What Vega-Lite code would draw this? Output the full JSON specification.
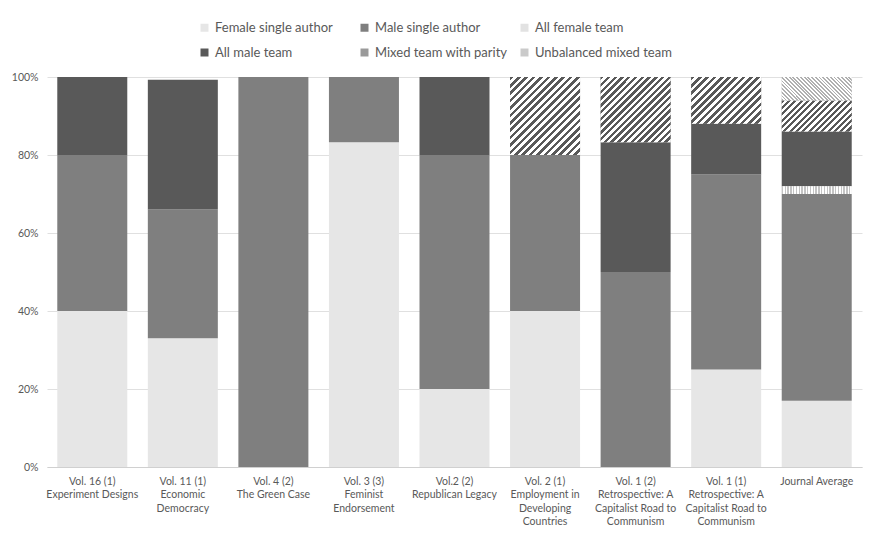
{
  "$schema": "https://vega.github.io/schema/vega-lite/v6.json",
  "width": 815,
  "height": 390,
  "autosize": {"type": "none"},
  "padding": {"left": 47, "top": 77, "right": 14, "bottom": 68},
  "background": "#ffffff",
  "config": {
    "view": {"stroke": null},
    "font": "Lato",
    "axis": {"labelFont": "Lato", "labelColor": "#595959", "labelFontSize": 10.5},
    "legend": {"labelFont": "Lato", "labelColor": "#595959", "labelFontSize": 13}
  },
  "data": {
    "values": [
      {"issue": "Vol. 16 (1)|Experiment Designs", "type": "Female single author", "rank": 1, "share": 0.40},
      {"issue": "Vol. 16 (1)|Experiment Designs", "type": "Male single author", "rank": 2, "share": 0.40},
      {"issue": "Vol. 16 (1)|Experiment Designs", "type": "All male team", "rank": 4, "share": 0.20},
      {"issue": "Vol. 11 (1)|Economic|Democracy", "type": "Female single author", "rank": 1, "share": 0.33},
      {"issue": "Vol. 11 (1)|Economic|Democracy", "type": "Male single author", "rank": 2, "share": 0.33},
      {"issue": "Vol. 11 (1)|Economic|Democracy", "type": "All male team", "rank": 4, "share": 0.333},
      {"issue": "Vol. 4 (2)|The Green Case", "type": "Male single author", "rank": 2, "share": 1.0},
      {"issue": "Vol. 3 (3)|Feminist|Endorsement", "type": "Female single author", "rank": 1, "share": 0.833},
      {"issue": "Vol. 3 (3)|Feminist|Endorsement", "type": "Male single author", "rank": 2, "share": 0.167},
      {"issue": "Vol.2 (2)|Republican Legacy", "type": "Female single author", "rank": 1, "share": 0.20},
      {"issue": "Vol.2 (2)|Republican Legacy", "type": "Male single author", "rank": 2, "share": 0.60},
      {"issue": "Vol.2 (2)|Republican Legacy", "type": "All male team", "rank": 4, "share": 0.20},
      {"issue": "Vol. 2 (1)|Employment in|Developing|Countries", "type": "Female single author", "rank": 1, "share": 0.40},
      {"issue": "Vol. 2 (1)|Employment in|Developing|Countries", "type": "Male single author", "rank": 2, "share": 0.40},
      {"issue": "Vol. 2 (1)|Employment in|Developing|Countries", "type": "Mixed team with parity", "rank": 5, "share": 0.20},
      {"issue": "Vol. 1 (2)|Retrospective: A|Capitalist Road to|Communism", "type": "Male single author", "rank": 2, "share": 0.50},
      {"issue": "Vol. 1 (2)|Retrospective: A|Capitalist Road to|Communism", "type": "All male team", "rank": 4, "share": 0.333},
      {"issue": "Vol. 1 (2)|Retrospective: A|Capitalist Road to|Communism", "type": "Mixed team with parity", "rank": 5, "share": 0.167},
      {"issue": "Vol. 1 (1)|Retrospective: A|Capitalist Road to|Communism", "type": "Female single author", "rank": 1, "share": 0.25},
      {"issue": "Vol. 1 (1)|Retrospective: A|Capitalist Road to|Communism", "type": "Male single author", "rank": 2, "share": 0.50},
      {"issue": "Vol. 1 (1)|Retrospective: A|Capitalist Road to|Communism", "type": "All male team", "rank": 4, "share": 0.13},
      {"issue": "Vol. 1 (1)|Retrospective: A|Capitalist Road to|Communism", "type": "Mixed team with parity", "rank": 5, "share": 0.12},
      {"issue": "Journal Average", "type": "Female single author", "rank": 1, "share": 0.17},
      {"issue": "Journal Average", "type": "Male single author", "rank": 2, "share": 0.53},
      {"issue": "Journal Average", "type": "All female team", "rank": 3, "share": 0.02},
      {"issue": "Journal Average", "type": "All male team", "rank": 4, "share": 0.14},
      {"issue": "Journal Average", "type": "Mixed team with parity", "rank": 5, "share": 0.08},
      {"issue": "Journal Average", "type": "Unbalanced mixed team", "rank": 6, "share": 0.06}
    ]
  },
  "transform": [
    {"stack": "share", "groupby": ["issue"], "sort": [{"field": "rank", "order": "ascending"}], "as": ["y0", "y1"]}
  ],
  "encoding": {
    "x": {
      "field": "issue",
      "type": "nominal",
      "sort": null,
      "scale": {"paddingInner": 0.227, "paddingOuter": 0.1135},
      "axis": {
        "title": null,
        "labelAngle": 0,
        "ticks": false,
        "domainColor": "#d0d0d0",
        "labelPadding": 9,
        "labelLineHeight": 13.5,
        "labelExpr": "split(datum.label, '|')"
      }
    },
    "y": {
      "field": "y1",
      "type": "quantitative",
      "scale": {"domain": [0, 1]},
      "axis": {
        "title": null,
        "format": ".0%",
        "values": [0, 0.2, 0.4, 0.6, 0.8, 1],
        "domain": false,
        "ticks": false,
        "gridColor": "#e0e0e0",
        "labelPadding": 9
      }
    },
    "y2": {"field": "y0"}
  },
  "layer": [
    {
      "mark": {"type": "bar"},
      "encoding": {
        "color": {
          "field": "type",
          "type": "nominal",
          "scale": {
            "domain": ["Female single author", "Male single author", "All female team", "All male team", "Mixed team with parity", "Unbalanced mixed team"],
            "range": ["#e6e6e6", "#7f7f7f", "#e2e2e2", "#595959", "#9a9a9a", "#cacaca"]
          },
          "legend": {
            "title": null,
            "orient": "none",
            "legendX": 151,
            "legendY": -56,
            "direction": "horizontal",
            "columns": 3,
            "gridAlign": "all",
            "columnPadding": 6,
            "rowPadding": 11,
            "padding": 0,
            "symbolType": "square",
            "symbolSize": 64,
            "symbolStrokeWidth": 0,
            "labelOffset": 4
          }
        }
      }
    },
    {
      "transform": [{"filter": {"field": "type", "equal": "All female team"}}],
      "mark": {"type": "bar", "fill": {"gradient": "linear", "x1": 0, "y1": 0, "x2": 1, "y2": 0, "stops": [
            {"offset": 0, "color": "#c4c4c4"}, {"offset": 0.02, "color": "#c4c4c4"}, {"offset": 0.02, "color": "#ffffff"}, {"offset": 0.04, "color": "#ffffff"},
            {"offset": 0.04, "color": "#c4c4c4"}, {"offset": 0.06, "color": "#c4c4c4"}, {"offset": 0.06, "color": "#ffffff"}, {"offset": 0.08, "color": "#ffffff"},
            {"offset": 0.08, "color": "#c4c4c4"}, {"offset": 0.10, "color": "#c4c4c4"}, {"offset": 0.10, "color": "#ffffff"}, {"offset": 0.12, "color": "#ffffff"},
            {"offset": 0.12, "color": "#c4c4c4"}, {"offset": 0.14, "color": "#c4c4c4"}, {"offset": 0.14, "color": "#ffffff"}, {"offset": 0.16, "color": "#ffffff"},
            {"offset": 0.16, "color": "#c4c4c4"}, {"offset": 0.18, "color": "#c4c4c4"}, {"offset": 0.18, "color": "#ffffff"}, {"offset": 0.20, "color": "#ffffff"},
            {"offset": 0.20, "color": "#c4c4c4"}, {"offset": 0.22, "color": "#c4c4c4"}, {"offset": 0.22, "color": "#ffffff"}, {"offset": 0.24, "color": "#ffffff"},
            {"offset": 0.24, "color": "#c4c4c4"}, {"offset": 0.26, "color": "#c4c4c4"}, {"offset": 0.26, "color": "#ffffff"}, {"offset": 0.28, "color": "#ffffff"},
            {"offset": 0.28, "color": "#c4c4c4"}, {"offset": 0.30, "color": "#c4c4c4"}, {"offset": 0.30, "color": "#ffffff"}, {"offset": 0.32, "color": "#ffffff"},
            {"offset": 0.32, "color": "#c4c4c4"}, {"offset": 0.34, "color": "#c4c4c4"}, {"offset": 0.34, "color": "#ffffff"}, {"offset": 0.36, "color": "#ffffff"},
            {"offset": 0.36, "color": "#c4c4c4"}, {"offset": 0.38, "color": "#c4c4c4"}, {"offset": 0.38, "color": "#ffffff"}, {"offset": 0.40, "color": "#ffffff"},
            {"offset": 0.40, "color": "#c4c4c4"}, {"offset": 0.42, "color": "#c4c4c4"}, {"offset": 0.42, "color": "#ffffff"}, {"offset": 0.44, "color": "#ffffff"},
            {"offset": 0.44, "color": "#c4c4c4"}, {"offset": 0.46, "color": "#c4c4c4"}, {"offset": 0.46, "color": "#ffffff"}, {"offset": 0.48, "color": "#ffffff"},
            {"offset": 0.48, "color": "#c4c4c4"}, {"offset": 0.50, "color": "#c4c4c4"}, {"offset": 0.50, "color": "#ffffff"}, {"offset": 0.52, "color": "#ffffff"},
            {"offset": 0.52, "color": "#c4c4c4"}, {"offset": 0.54, "color": "#c4c4c4"}, {"offset": 0.54, "color": "#ffffff"}, {"offset": 0.56, "color": "#ffffff"},
            {"offset": 0.56, "color": "#c4c4c4"}, {"offset": 0.58, "color": "#c4c4c4"}, {"offset": 0.58, "color": "#ffffff"}, {"offset": 0.60, "color": "#ffffff"},
            {"offset": 0.60, "color": "#c4c4c4"}, {"offset": 0.62, "color": "#c4c4c4"}, {"offset": 0.62, "color": "#ffffff"}, {"offset": 0.64, "color": "#ffffff"},
            {"offset": 0.64, "color": "#c4c4c4"}, {"offset": 0.66, "color": "#c4c4c4"}, {"offset": 0.66, "color": "#ffffff"}, {"offset": 0.68, "color": "#ffffff"},
            {"offset": 0.68, "color": "#c4c4c4"}, {"offset": 0.70, "color": "#c4c4c4"}, {"offset": 0.70, "color": "#ffffff"}, {"offset": 0.72, "color": "#ffffff"},
            {"offset": 0.72, "color": "#c4c4c4"}, {"offset": 0.74, "color": "#c4c4c4"}, {"offset": 0.74, "color": "#ffffff"}, {"offset": 0.76, "color": "#ffffff"},
            {"offset": 0.76, "color": "#c4c4c4"}, {"offset": 0.78, "color": "#c4c4c4"}, {"offset": 0.78, "color": "#ffffff"}, {"offset": 0.80, "color": "#ffffff"},
            {"offset": 0.80, "color": "#c4c4c4"}, {"offset": 0.82, "color": "#c4c4c4"}, {"offset": 0.82, "color": "#ffffff"}, {"offset": 0.84, "color": "#ffffff"},
            {"offset": 0.84, "color": "#c4c4c4"}, {"offset": 0.86, "color": "#c4c4c4"}, {"offset": 0.86, "color": "#ffffff"}, {"offset": 0.88, "color": "#ffffff"},
            {"offset": 0.88, "color": "#c4c4c4"}, {"offset": 0.90, "color": "#c4c4c4"}, {"offset": 0.90, "color": "#ffffff"}, {"offset": 0.92, "color": "#ffffff"},
            {"offset": 0.92, "color": "#c4c4c4"}, {"offset": 0.94, "color": "#c4c4c4"}, {"offset": 0.94, "color": "#ffffff"}, {"offset": 0.96, "color": "#ffffff"},
            {"offset": 0.96, "color": "#c4c4c4"}, {"offset": 0.98, "color": "#c4c4c4"}, {"offset": 0.98, "color": "#ffffff"}, {"offset": 1, "color": "#ffffff"}
          ]}}
    },
    {
      "transform": [{"filter": {"and": [{"field": "type", "equal": "Mixed team with parity"}, {"field": "issue", "equal": "Vol. 2 (1)|Employment in|Developing|Countries"}]}}],
      "mark": {"type": "bar", "fill": {"gradient": "linear", "x1": 0, "y1": 0, "x2": 0.943, "y2": 1.051, "stops": [
            {"offset": 0, "color": "#595959"}, {"offset": 0.025, "color": "#595959"}, {"offset": 0.025, "color": "#ffffff"}, {"offset": 0.05, "color": "#ffffff"},
            {"offset": 0.05, "color": "#595959"}, {"offset": 0.075, "color": "#595959"}, {"offset": 0.075, "color": "#ffffff"}, {"offset": 0.1, "color": "#ffffff"},
            {"offset": 0.1, "color": "#595959"}, {"offset": 0.125, "color": "#595959"}, {"offset": 0.125, "color": "#ffffff"}, {"offset": 0.15, "color": "#ffffff"},
            {"offset": 0.15, "color": "#595959"}, {"offset": 0.175, "color": "#595959"}, {"offset": 0.175, "color": "#ffffff"}, {"offset": 0.2, "color": "#ffffff"},
            {"offset": 0.2, "color": "#595959"}, {"offset": 0.225, "color": "#595959"}, {"offset": 0.225, "color": "#ffffff"}, {"offset": 0.25, "color": "#ffffff"},
            {"offset": 0.25, "color": "#595959"}, {"offset": 0.275, "color": "#595959"}, {"offset": 0.275, "color": "#ffffff"}, {"offset": 0.3, "color": "#ffffff"},
            {"offset": 0.3, "color": "#595959"}, {"offset": 0.325, "color": "#595959"}, {"offset": 0.325, "color": "#ffffff"}, {"offset": 0.35, "color": "#ffffff"},
            {"offset": 0.35, "color": "#595959"}, {"offset": 0.375, "color": "#595959"}, {"offset": 0.375, "color": "#ffffff"}, {"offset": 0.4, "color": "#ffffff"},
            {"offset": 0.4, "color": "#595959"}, {"offset": 0.425, "color": "#595959"}, {"offset": 0.425, "color": "#ffffff"}, {"offset": 0.45, "color": "#ffffff"},
            {"offset": 0.45, "color": "#595959"}, {"offset": 0.475, "color": "#595959"}, {"offset": 0.475, "color": "#ffffff"}, {"offset": 0.5, "color": "#ffffff"},
            {"offset": 0.5, "color": "#595959"}, {"offset": 0.525, "color": "#595959"}, {"offset": 0.525, "color": "#ffffff"}, {"offset": 0.55, "color": "#ffffff"},
            {"offset": 0.55, "color": "#595959"}, {"offset": 0.575, "color": "#595959"}, {"offset": 0.575, "color": "#ffffff"}, {"offset": 0.6, "color": "#ffffff"},
            {"offset": 0.6, "color": "#595959"}, {"offset": 0.625, "color": "#595959"}, {"offset": 0.625, "color": "#ffffff"}, {"offset": 0.65, "color": "#ffffff"},
            {"offset": 0.65, "color": "#595959"}, {"offset": 0.675, "color": "#595959"}, {"offset": 0.675, "color": "#ffffff"}, {"offset": 0.7, "color": "#ffffff"},
            {"offset": 0.7, "color": "#595959"}, {"offset": 0.725, "color": "#595959"}, {"offset": 0.725, "color": "#ffffff"}, {"offset": 0.75, "color": "#ffffff"},
            {"offset": 0.75, "color": "#595959"}, {"offset": 0.775, "color": "#595959"}, {"offset": 0.775, "color": "#ffffff"}, {"offset": 0.8, "color": "#ffffff"},
            {"offset": 0.8, "color": "#595959"}, {"offset": 0.825, "color": "#595959"}, {"offset": 0.825, "color": "#ffffff"}, {"offset": 0.85, "color": "#ffffff"},
            {"offset": 0.85, "color": "#595959"}, {"offset": 0.875, "color": "#595959"}, {"offset": 0.875, "color": "#ffffff"}, {"offset": 0.9, "color": "#ffffff"},
            {"offset": 0.9, "color": "#595959"}, {"offset": 0.925, "color": "#595959"}, {"offset": 0.925, "color": "#ffffff"}, {"offset": 0.95, "color": "#ffffff"},
            {"offset": 0.95, "color": "#595959"}, {"offset": 0.975, "color": "#595959"}, {"offset": 0.975, "color": "#ffffff"}, {"offset": 1, "color": "#ffffff"}
          ]}}
    },
    {
      "transform": [{"filter": {"and": [{"field": "type", "equal": "Mixed team with parity"}, {"field": "issue", "equal": "Vol. 1 (2)|Retrospective: A|Capitalist Road to|Communism"}]}}],
      "mark": {"type": "bar", "fill": {"gradient": "linear", "x1": 0, "y1": 0, "x2": 1.035, "y2": 0.962, "stops": [
            {"offset": 0, "color": "#595959"}, {"offset": 0.025, "color": "#595959"}, {"offset": 0.025, "color": "#ffffff"}, {"offset": 0.05, "color": "#ffffff"},
            {"offset": 0.05, "color": "#595959"}, {"offset": 0.075, "color": "#595959"}, {"offset": 0.075, "color": "#ffffff"}, {"offset": 0.1, "color": "#ffffff"},
            {"offset": 0.1, "color": "#595959"}, {"offset": 0.125, "color": "#595959"}, {"offset": 0.125, "color": "#ffffff"}, {"offset": 0.15, "color": "#ffffff"},
            {"offset": 0.15, "color": "#595959"}, {"offset": 0.175, "color": "#595959"}, {"offset": 0.175, "color": "#ffffff"}, {"offset": 0.2, "color": "#ffffff"},
            {"offset": 0.2, "color": "#595959"}, {"offset": 0.225, "color": "#595959"}, {"offset": 0.225, "color": "#ffffff"}, {"offset": 0.25, "color": "#ffffff"},
            {"offset": 0.25, "color": "#595959"}, {"offset": 0.275, "color": "#595959"}, {"offset": 0.275, "color": "#ffffff"}, {"offset": 0.3, "color": "#ffffff"},
            {"offset": 0.3, "color": "#595959"}, {"offset": 0.325, "color": "#595959"}, {"offset": 0.325, "color": "#ffffff"}, {"offset": 0.35, "color": "#ffffff"},
            {"offset": 0.35, "color": "#595959"}, {"offset": 0.375, "color": "#595959"}, {"offset": 0.375, "color": "#ffffff"}, {"offset": 0.4, "color": "#ffffff"},
            {"offset": 0.4, "color": "#595959"}, {"offset": 0.425, "color": "#595959"}, {"offset": 0.425, "color": "#ffffff"}, {"offset": 0.45, "color": "#ffffff"},
            {"offset": 0.45, "color": "#595959"}, {"offset": 0.475, "color": "#595959"}, {"offset": 0.475, "color": "#ffffff"}, {"offset": 0.5, "color": "#ffffff"},
            {"offset": 0.5, "color": "#595959"}, {"offset": 0.525, "color": "#595959"}, {"offset": 0.525, "color": "#ffffff"}, {"offset": 0.55, "color": "#ffffff"},
            {"offset": 0.55, "color": "#595959"}, {"offset": 0.575, "color": "#595959"}, {"offset": 0.575, "color": "#ffffff"}, {"offset": 0.6, "color": "#ffffff"},
            {"offset": 0.6, "color": "#595959"}, {"offset": 0.625, "color": "#595959"}, {"offset": 0.625, "color": "#ffffff"}, {"offset": 0.65, "color": "#ffffff"},
            {"offset": 0.65, "color": "#595959"}, {"offset": 0.675, "color": "#595959"}, {"offset": 0.675, "color": "#ffffff"}, {"offset": 0.7, "color": "#ffffff"},
            {"offset": 0.7, "color": "#595959"}, {"offset": 0.725, "color": "#595959"}, {"offset": 0.725, "color": "#ffffff"}, {"offset": 0.75, "color": "#ffffff"},
            {"offset": 0.75, "color": "#595959"}, {"offset": 0.775, "color": "#595959"}, {"offset": 0.775, "color": "#ffffff"}, {"offset": 0.8, "color": "#ffffff"},
            {"offset": 0.8, "color": "#595959"}, {"offset": 0.825, "color": "#595959"}, {"offset": 0.825, "color": "#ffffff"}, {"offset": 0.85, "color": "#ffffff"},
            {"offset": 0.85, "color": "#595959"}, {"offset": 0.875, "color": "#595959"}, {"offset": 0.875, "color": "#ffffff"}, {"offset": 0.9, "color": "#ffffff"},
            {"offset": 0.9, "color": "#595959"}, {"offset": 0.925, "color": "#595959"}, {"offset": 0.925, "color": "#ffffff"}, {"offset": 0.95, "color": "#ffffff"},
            {"offset": 0.95, "color": "#595959"}, {"offset": 0.975, "color": "#595959"}, {"offset": 0.975, "color": "#ffffff"}, {"offset": 1, "color": "#ffffff"}
          ]}}
    },
    {
      "transform": [{"filter": {"and": [{"field": "type", "equal": "Mixed team with parity"}, {"field": "issue", "equal": "Vol. 1 (1)|Retrospective: A|Capitalist Road to|Communism"}]}}],
      "mark": {"type": "bar", "fill": {"gradient": "linear", "x1": 0, "y1": 0, "x2": 1.153, "y2": 0.771, "stops": [
            {"offset": 0, "color": "#595959"}, {"offset": 0.03125, "color": "#595959"}, {"offset": 0.03125, "color": "#ffffff"}, {"offset": 0.0625, "color": "#ffffff"},
            {"offset": 0.0625, "color": "#595959"}, {"offset": 0.09375, "color": "#595959"}, {"offset": 0.09375, "color": "#ffffff"}, {"offset": 0.125, "color": "#ffffff"},
            {"offset": 0.125, "color": "#595959"}, {"offset": 0.15625, "color": "#595959"}, {"offset": 0.15625, "color": "#ffffff"}, {"offset": 0.1875, "color": "#ffffff"},
            {"offset": 0.1875, "color": "#595959"}, {"offset": 0.21875, "color": "#595959"}, {"offset": 0.21875, "color": "#ffffff"}, {"offset": 0.25, "color": "#ffffff"},
            {"offset": 0.25, "color": "#595959"}, {"offset": 0.28125, "color": "#595959"}, {"offset": 0.28125, "color": "#ffffff"}, {"offset": 0.3125, "color": "#ffffff"},
            {"offset": 0.3125, "color": "#595959"}, {"offset": 0.34375, "color": "#595959"}, {"offset": 0.34375, "color": "#ffffff"}, {"offset": 0.375, "color": "#ffffff"},
            {"offset": 0.375, "color": "#595959"}, {"offset": 0.40625, "color": "#595959"}, {"offset": 0.40625, "color": "#ffffff"}, {"offset": 0.4375, "color": "#ffffff"},
            {"offset": 0.4375, "color": "#595959"}, {"offset": 0.46875, "color": "#595959"}, {"offset": 0.46875, "color": "#ffffff"}, {"offset": 0.5, "color": "#ffffff"},
            {"offset": 0.5, "color": "#595959"}, {"offset": 0.53125, "color": "#595959"}, {"offset": 0.53125, "color": "#ffffff"}, {"offset": 0.5625, "color": "#ffffff"},
            {"offset": 0.5625, "color": "#595959"}, {"offset": 0.59375, "color": "#595959"}, {"offset": 0.59375, "color": "#ffffff"}, {"offset": 0.625, "color": "#ffffff"},
            {"offset": 0.625, "color": "#595959"}, {"offset": 0.65625, "color": "#595959"}, {"offset": 0.65625, "color": "#ffffff"}, {"offset": 0.6875, "color": "#ffffff"},
            {"offset": 0.6875, "color": "#595959"}, {"offset": 0.71875, "color": "#595959"}, {"offset": 0.71875, "color": "#ffffff"}, {"offset": 0.75, "color": "#ffffff"},
            {"offset": 0.75, "color": "#595959"}, {"offset": 0.78125, "color": "#595959"}, {"offset": 0.78125, "color": "#ffffff"}, {"offset": 0.8125, "color": "#ffffff"},
            {"offset": 0.8125, "color": "#595959"}, {"offset": 0.84375, "color": "#595959"}, {"offset": 0.84375, "color": "#ffffff"}, {"offset": 0.875, "color": "#ffffff"},
            {"offset": 0.875, "color": "#595959"}, {"offset": 0.90625, "color": "#595959"}, {"offset": 0.90625, "color": "#ffffff"}, {"offset": 0.9375, "color": "#ffffff"},
            {"offset": 0.9375, "color": "#595959"}, {"offset": 0.96875, "color": "#595959"}, {"offset": 0.96875, "color": "#ffffff"}, {"offset": 1, "color": "#ffffff"}
          ]}}
    },
    {
      "transform": [{"filter": {"and": [{"field": "type", "equal": "Mixed team with parity"}, {"field": "issue", "equal": "Journal Average"}]}}],
      "mark": {"type": "bar", "fill": {"gradient": "linear", "x1": 0, "y1": 0, "x2": 1.206, "y2": 0.538, "stops": [
            {"offset": 0, "color": "#595959"}, {"offset": 0.03125, "color": "#595959"}, {"offset": 0.03125, "color": "#ffffff"}, {"offset": 0.0625, "color": "#ffffff"},
            {"offset": 0.0625, "color": "#595959"}, {"offset": 0.09375, "color": "#595959"}, {"offset": 0.09375, "color": "#ffffff"}, {"offset": 0.125, "color": "#ffffff"},
            {"offset": 0.125, "color": "#595959"}, {"offset": 0.15625, "color": "#595959"}, {"offset": 0.15625, "color": "#ffffff"}, {"offset": 0.1875, "color": "#ffffff"},
            {"offset": 0.1875, "color": "#595959"}, {"offset": 0.21875, "color": "#595959"}, {"offset": 0.21875, "color": "#ffffff"}, {"offset": 0.25, "color": "#ffffff"},
            {"offset": 0.25, "color": "#595959"}, {"offset": 0.28125, "color": "#595959"}, {"offset": 0.28125, "color": "#ffffff"}, {"offset": 0.3125, "color": "#ffffff"},
            {"offset": 0.3125, "color": "#595959"}, {"offset": 0.34375, "color": "#595959"}, {"offset": 0.34375, "color": "#ffffff"}, {"offset": 0.375, "color": "#ffffff"},
            {"offset": 0.375, "color": "#595959"}, {"offset": 0.40625, "color": "#595959"}, {"offset": 0.40625, "color": "#ffffff"}, {"offset": 0.4375, "color": "#ffffff"},
            {"offset": 0.4375, "color": "#595959"}, {"offset": 0.46875, "color": "#595959"}, {"offset": 0.46875, "color": "#ffffff"}, {"offset": 0.5, "color": "#ffffff"},
            {"offset": 0.5, "color": "#595959"}, {"offset": 0.53125, "color": "#595959"}, {"offset": 0.53125, "color": "#ffffff"}, {"offset": 0.5625, "color": "#ffffff"},
            {"offset": 0.5625, "color": "#595959"}, {"offset": 0.59375, "color": "#595959"}, {"offset": 0.59375, "color": "#ffffff"}, {"offset": 0.625, "color": "#ffffff"},
            {"offset": 0.625, "color": "#595959"}, {"offset": 0.65625, "color": "#595959"}, {"offset": 0.65625, "color": "#ffffff"}, {"offset": 0.6875, "color": "#ffffff"},
            {"offset": 0.6875, "color": "#595959"}, {"offset": 0.71875, "color": "#595959"}, {"offset": 0.71875, "color": "#ffffff"}, {"offset": 0.75, "color": "#ffffff"},
            {"offset": 0.75, "color": "#595959"}, {"offset": 0.78125, "color": "#595959"}, {"offset": 0.78125, "color": "#ffffff"}, {"offset": 0.8125, "color": "#ffffff"},
            {"offset": 0.8125, "color": "#595959"}, {"offset": 0.84375, "color": "#595959"}, {"offset": 0.84375, "color": "#ffffff"}, {"offset": 0.875, "color": "#ffffff"},
            {"offset": 0.875, "color": "#595959"}, {"offset": 0.90625, "color": "#595959"}, {"offset": 0.90625, "color": "#ffffff"}, {"offset": 0.9375, "color": "#ffffff"},
            {"offset": 0.9375, "color": "#595959"}, {"offset": 0.96875, "color": "#595959"}, {"offset": 0.96875, "color": "#ffffff"}, {"offset": 1, "color": "#ffffff"}
          ]}}
    },
    {
      "transform": [{"filter": {"field": "type", "equal": "Unbalanced mixed team"}}],
      "mark": {"type": "bar", "fill": {"gradient": "linear", "x1": 0, "y1": 1, "x2": 1.2, "y2": 0.599, "stops": [
            {"offset": 0, "color": "#b0b0b0"}, {"offset": 0.02, "color": "#b0b0b0"}, {"offset": 0.02, "color": "#ffffff"}, {"offset": 0.04, "color": "#ffffff"},
            {"offset": 0.04, "color": "#b0b0b0"}, {"offset": 0.06, "color": "#b0b0b0"}, {"offset": 0.06, "color": "#ffffff"}, {"offset": 0.08, "color": "#ffffff"},
            {"offset": 0.08, "color": "#b0b0b0"}, {"offset": 0.10, "color": "#b0b0b0"}, {"offset": 0.10, "color": "#ffffff"}, {"offset": 0.12, "color": "#ffffff"},
            {"offset": 0.12, "color": "#b0b0b0"}, {"offset": 0.14, "color": "#b0b0b0"}, {"offset": 0.14, "color": "#ffffff"}, {"offset": 0.16, "color": "#ffffff"},
            {"offset": 0.16, "color": "#b0b0b0"}, {"offset": 0.18, "color": "#b0b0b0"}, {"offset": 0.18, "color": "#ffffff"}, {"offset": 0.20, "color": "#ffffff"},
            {"offset": 0.20, "color": "#b0b0b0"}, {"offset": 0.22, "color": "#b0b0b0"}, {"offset": 0.22, "color": "#ffffff"}, {"offset": 0.24, "color": "#ffffff"},
            {"offset": 0.24, "color": "#b0b0b0"}, {"offset": 0.26, "color": "#b0b0b0"}, {"offset": 0.26, "color": "#ffffff"}, {"offset": 0.28, "color": "#ffffff"},
            {"offset": 0.28, "color": "#b0b0b0"}, {"offset": 0.30, "color": "#b0b0b0"}, {"offset": 0.30, "color": "#ffffff"}, {"offset": 0.32, "color": "#ffffff"},
            {"offset": 0.32, "color": "#b0b0b0"}, {"offset": 0.34, "color": "#b0b0b0"}, {"offset": 0.34, "color": "#ffffff"}, {"offset": 0.36, "color": "#ffffff"},
            {"offset": 0.36, "color": "#b0b0b0"}, {"offset": 0.38, "color": "#b0b0b0"}, {"offset": 0.38, "color": "#ffffff"}, {"offset": 0.40, "color": "#ffffff"},
            {"offset": 0.40, "color": "#b0b0b0"}, {"offset": 0.42, "color": "#b0b0b0"}, {"offset": 0.42, "color": "#ffffff"}, {"offset": 0.44, "color": "#ffffff"},
            {"offset": 0.44, "color": "#b0b0b0"}, {"offset": 0.46, "color": "#b0b0b0"}, {"offset": 0.46, "color": "#ffffff"}, {"offset": 0.48, "color": "#ffffff"},
            {"offset": 0.48, "color": "#b0b0b0"}, {"offset": 0.50, "color": "#b0b0b0"}, {"offset": 0.50, "color": "#ffffff"}, {"offset": 0.52, "color": "#ffffff"},
            {"offset": 0.52, "color": "#b0b0b0"}, {"offset": 0.54, "color": "#b0b0b0"}, {"offset": 0.54, "color": "#ffffff"}, {"offset": 0.56, "color": "#ffffff"},
            {"offset": 0.56, "color": "#b0b0b0"}, {"offset": 0.58, "color": "#b0b0b0"}, {"offset": 0.58, "color": "#ffffff"}, {"offset": 0.60, "color": "#ffffff"},
            {"offset": 0.60, "color": "#b0b0b0"}, {"offset": 0.62, "color": "#b0b0b0"}, {"offset": 0.62, "color": "#ffffff"}, {"offset": 0.64, "color": "#ffffff"},
            {"offset": 0.64, "color": "#b0b0b0"}, {"offset": 0.66, "color": "#b0b0b0"}, {"offset": 0.66, "color": "#ffffff"}, {"offset": 0.68, "color": "#ffffff"},
            {"offset": 0.68, "color": "#b0b0b0"}, {"offset": 0.70, "color": "#b0b0b0"}, {"offset": 0.70, "color": "#ffffff"}, {"offset": 0.72, "color": "#ffffff"},
            {"offset": 0.72, "color": "#b0b0b0"}, {"offset": 0.74, "color": "#b0b0b0"}, {"offset": 0.74, "color": "#ffffff"}, {"offset": 0.76, "color": "#ffffff"},
            {"offset": 0.76, "color": "#b0b0b0"}, {"offset": 0.78, "color": "#b0b0b0"}, {"offset": 0.78, "color": "#ffffff"}, {"offset": 0.80, "color": "#ffffff"},
            {"offset": 0.80, "color": "#b0b0b0"}, {"offset": 0.82, "color": "#b0b0b0"}, {"offset": 0.82, "color": "#ffffff"}, {"offset": 0.84, "color": "#ffffff"},
            {"offset": 0.84, "color": "#b0b0b0"}, {"offset": 0.86, "color": "#b0b0b0"}, {"offset": 0.86, "color": "#ffffff"}, {"offset": 0.88, "color": "#ffffff"},
            {"offset": 0.88, "color": "#b0b0b0"}, {"offset": 0.90, "color": "#b0b0b0"}, {"offset": 0.90, "color": "#ffffff"}, {"offset": 0.92, "color": "#ffffff"},
            {"offset": 0.92, "color": "#b0b0b0"}, {"offset": 0.94, "color": "#b0b0b0"}, {"offset": 0.94, "color": "#ffffff"}, {"offset": 0.96, "color": "#ffffff"},
            {"offset": 0.96, "color": "#b0b0b0"}, {"offset": 0.98, "color": "#b0b0b0"}, {"offset": 0.98, "color": "#ffffff"}, {"offset": 1, "color": "#ffffff"}
          ]}}
    }
  ]
}
